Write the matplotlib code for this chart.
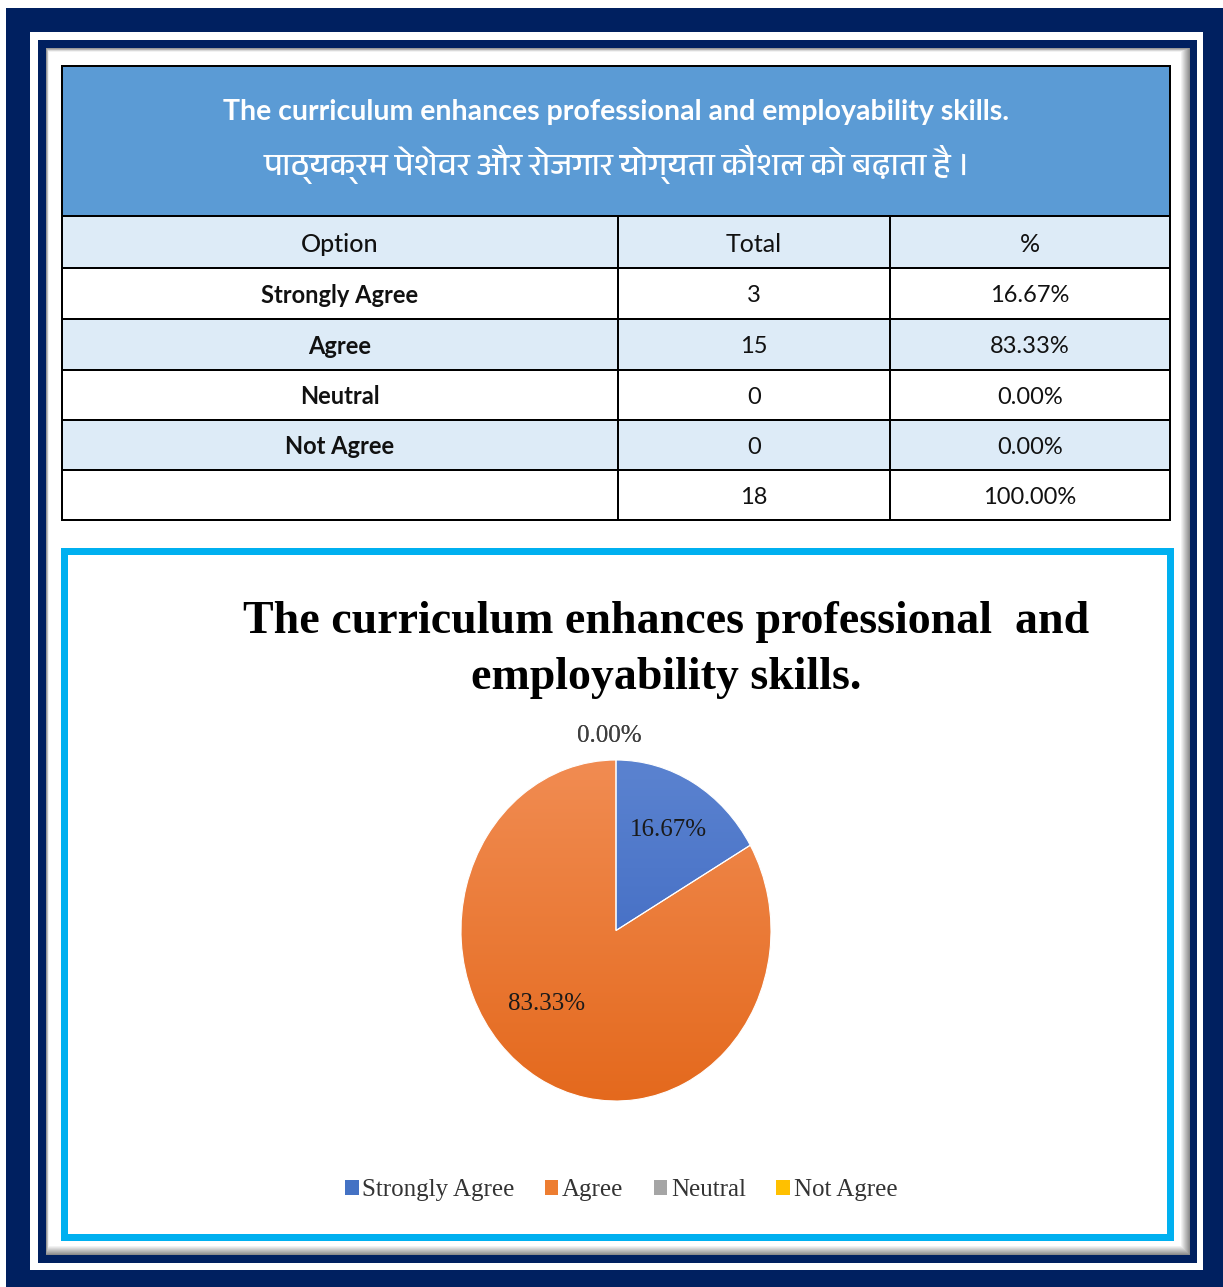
import matplotlib
matplotlib.use('Agg')
import matplotlib.pyplot as plt
from matplotlib.patches import Rectangle
from matplotlib.colors import LinearSegmentedColormap
from matplotlib import font_manager
import numpy as np

# data
title_en = 'The curriculum enhances professional and employability skills.'
title_hi = 'पाठ्यक्रम पेशेवर और रोजगार योग्यता कौशल को बढ़ाता है ।'
chart_title = 'The curriculum enhances professional  and\nemployability skills.'
col_heads = ['Option', 'Total', '%']
options = ['Strongly Agree', 'Agree', 'Neutral', 'Not Agree']
totals = [3, 15, 0, 0]
percents = [16.67, 83.33, 0.00, 0.00]
grand_total = 18
grand_pct = 100.00
colors = ['#4472C4', '#ED7D31', '#A5A5A5', '#FFC000']
grad = {'#4472C4': ('#5B83D0', '#3560BD'), '#ED7D31': ('#F18C52', '#E4691D')}

# fonts
deva = [f.name for f in font_manager.fontManager.ttflist if 'Devanagari' in f.name]
hi_fam = deva[:1] + ['Noto Sans', 'DejaVu Sans']
serif = 'Liberation Serif'

W, H = 1223, 1287
fig = plt.figure(figsize=(W / 100, H / 100), dpi=100)
bg = fig.add_axes([0, 0, 1, 1])
bg.set_xlim(0, W)
bg.set_ylim(H, 0)
bg.axis('off')
px = 0.72


def box(x0, y0, x1, y1, fc, ec='none', lw=0, z=1):
    bg.add_patch(Rectangle((x0, y0), x1 - x0, y1 - y0, facecolor=fc,
                           edgecolor=ec, linewidth=lw * px, zorder=z))


# frames
navy = '#002060'
box(6, 8, W, H, navy)
box(30, 32, 1203, 1270, 'white')
box(38, 40, 1197, 1263, navy)
for i, g in enumerate(np.linspace(0.55, 1.0, 10)):
    box(46 + i * 0.3, 48 + i * 0.4, 1190 - i, 1255 - i, str(g))
box(49, 52, 1180, 1245, 'white')

# table
cx = [62, 618, 890, 1170]
ry = [66, 216, 268, 319, 370, 420, 470, 520]
box(cx[0], ry[0], cx[3], ry[1], '#5B9BD5', 'black', 2, 3)
bg.text((cx[0] + cx[3]) / 2, 112, title_en, color='white', fontsize=20.5,
        fontweight='bold', family='Lato', ha='center', va='center', zorder=5)
bg.text((cx[0] + cx[3]) / 2 + 1, 165, title_hi, color='white', fontsize=23,
        fontweight='bold', family=hi_fam, ha='center', va='center', zorder=5)

rows = [col_heads]
for o, t, p in zip(options, totals, percents):
    rows.append([o, str(t), f'{p:.2f}%'])
rows.append(['', str(grand_total), f'{grand_pct:.2f}%'])
for r, row in enumerate(rows):
    fc = '#DDEBF7' if r % 2 == 0 else 'white'
    for c, val in enumerate(row):
        box(cx[c], ry[r + 1], cx[c + 1], ry[r + 2], fc, 'black', 2, 3)
        bold = c == 0 and 0 < r < len(rows) - 1
        bg.text((cx[c] + cx[c + 1]) / 2, (ry[r + 1] + ry[r + 2]) / 2 + 2, val,
                fontsize=18 if r == 0 else 17, family='Lato',
                fontweight='bold' if bold else ('medium' if r == 0 and c == 0 else 'normal'),
                color='#111111', ha='center', va='center', zorder=5)

# chart box
box(63.5, 550.5, 1169.5, 1236.5, 'white', '#00B0F0', 7, 2)
bg.text(666, 650, chart_title, fontsize=33, fontweight='bold', family=serif,
        ha='center', va='center', linespacing=1.45, zorder=5)

ax = fig.add_axes([461 / W, 1 - 1101 / H, 310 / W, 341 / H])
wedges, _ = ax.pie(totals, colors=colors, startangle=90, counterclock=False,
                   wedgeprops=dict(edgecolor='white', linewidth=0.8))
ax.set_aspect('auto')
for w in wedges:
    key = matplotlib.colors.to_hex(w.get_facecolor()).upper()
    if key in grad:
        cm = LinearSegmentedColormap.from_list('g', grad[key])
        im = ax.imshow(np.linspace(0, 1, 256).reshape(-1, 1), cmap=cm,
                       extent=(-1, 1, -1, 1), origin='upper', aspect='auto', zorder=1)
        im.set_clip_path(w)
        w.set_zorder(2)
        w.set_facecolor('none')
ax.set_xlim(-1, 1)
ax.set_ylim(-1, 1)

for w, p in zip(wedges, percents):
    ang = np.deg2rad((w.theta1 + w.theta2) / 2)
    if p == 0:
        r = 1.14
        ang = np.deg2rad(w.theta1) + 0.04
    elif p > 50:
        r = 0.62
        ang = np.deg2rad(224)
    else:
        r = 0.68
    ax.text(r * np.cos(ang), r * np.sin(ang), f'{p:.2f}%', fontsize=18,
            family=serif, color='#1a1a1a' if p else '#404040',
            ha='center', va='center', zorder=5)

leg = fig.legend(wedges, options, loc='center', bbox_to_anchor=(621 / W, 1 - 1190 / H),
                 ncol=4, frameon=False, handlelength=0.55, handleheight=0.55,
                 handletextpad=0.15, columnspacing=1.2,
                 prop={'family': serif, 'size': 18})
for h, c in zip(leg.legend_handles, colors):
    h.set_facecolor(c)
    h.set_edgecolor('none')
for t in leg.get_texts():
    t.set_color('#333333')

fig.savefig('out.png', dpi=100)
